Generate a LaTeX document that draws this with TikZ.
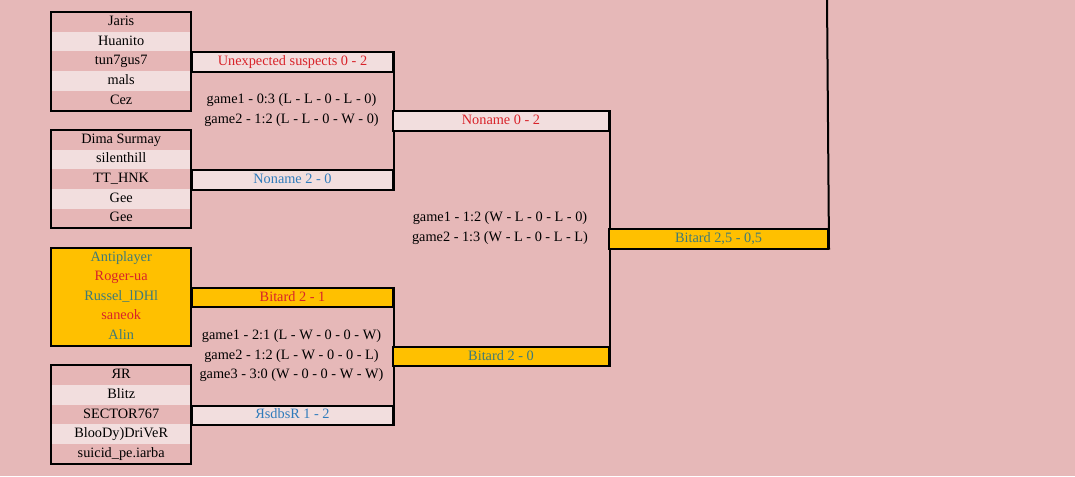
\documentclass[tikz,border=0pt]{standalone}
\usepackage{fontspec}
\setmainfont{Liberation Serif}
\definecolor{bg}{HTML}{E6B8B8}
\definecolor{rowdark}{HTML}{E6B6B6}
\definecolor{rowlight}{HTML}{F2DEDE}
\definecolor{gold}{HTML}{FFC000}
\definecolor{tred}{HTML}{D8232A}
\definecolor{tblue}{HTML}{2F7BBB}
\definecolor{tteal}{HTML}{3F7A78}
\begin{document}
\begin{tikzpicture}[x=1pt,y=-1pt,
  txt/.style={font=\fontsize{14.3}{16}\selectfont, inner sep=0pt, text height=10pt, text depth=3pt},
  cell/.style={txt, anchor=north west, minimum width=140pt, minimum height=19.63pt},
  dk/.style={cell, fill=rowdark},
  lt/.style={cell, fill=rowlight},
  yl/.style={cell, fill=gold},
  bar/.style={txt, anchor=north west, minimum height=19.63pt, draw=black, line width=2pt},
  bar1/.style={bar, minimum width=201pt},
  bar2/.style={bar, minimum width=216pt},
  bar3/.style={bar, minimum width=219pt},
  game/.style={txt, anchor=center},
  frame/.style={draw=black, line width=2pt}
]
\fill[bg] (0,0) rectangle (1075,476);
\useasboundingbox (0,0) rectangle (1075,476);

% team box 1
\node[dk] (a1) at (51,{12+19.63*0}) {Jaris};
\node[lt] (a2) at (51,{12+19.63*1}) {Huanito};
\node[dk] (a3) at (51,{12+19.63*2}) {tun7gus7};
\node[lt] (a4) at (51,{12+19.63*3}) {mals};
\node[dk] (a5) at (51,{12+19.63*4}) {Cez};
\draw[frame] (a1.north west) rectangle (a5.south east);

% team box 2
\node[dk] (b1) at (51,{12+19.63*6}) {Dima Surmay};
\node[lt] (b2) at (51,{12+19.63*7}) {silenthill};
\node[dk] (b3) at (51,{12+19.63*8}) {TT\_HNK};
\node[lt] (b4) at (51,{12+19.63*9}) {Gee};
\node[dk] (b5) at (51,{12+19.63*10}) {Gee};
\draw[frame] (b1.north west) rectangle (b5.south east);

% team box 3
\node[yl, text=tteal] (c1) at (51,{12+19.63*12}) {Antiplayer};
\node[yl, text=tred]  (c2) at (51,{12+19.63*13}) {Roger-ua};
\node[yl, text=tteal] (c3) at (51,{12+19.63*14}) {Russel\_lDHl};
\node[yl, text=tred]  (c4) at (51,{12+19.63*15}) {saneok};
\node[yl, text=tteal] (c5) at (51,{12+19.63*16}) {Alin};
\draw[frame] (c1.north west) rectangle (c5.south east);

% team box 4
\node[dk] (d1) at (51,{12+19.63*18}) {ЯR};
\node[lt] (d2) at (51,{12+19.63*19}) {Blitz};
\node[dk] (d3) at (51,{12+19.63*20}) {SECTOR767};
\node[lt] (d4) at (51,{12+19.63*21}) {BlooDy)DriVeR};
\node[dk] (d5) at (51,{12+19.63*22}) {suicid\_pe.iarba};
\draw[frame] (d1.north west) rectangle (d5.south east);

% round 1, match 1
\node[bar1, fill=rowlight, text=tred] (m1a) at (191,{12+19.63*2}) {Unexpected suspects 0 - 2};
\node[bar1, fill=rowlight, text=tblue] (m1b) at (191,{12+19.63*8}) {Noname 2 - 0};
\draw[frame] (m1a.north east) -- (m1b.south east);
\node[game] (g11) at (291.5,{12+19.63*4.5}) {game1 - 0:3 (L - L - 0 - L - 0)};
\node[game] (g12) at (291.5,{12+19.63*5.5}) {game2 - 1:2 (L - L - 0 - W - 0)};

% round 1, match 2
\node[bar1, fill=gold, text=tred] (m2a) at (191,{12+19.63*14}) {Bitard 2 - 1};
\node[bar1, fill=rowlight, text=tblue] (m2b) at (191,{12+19.63*20}) {ЯsdbsR 1 - 2};
\draw[frame] (m2a.north east) -- (m2b.south east);
\node[game] (g21) at (291.5,{12+19.63*16.5}) {game1 - 2:1 (L - W - 0 - 0 - W)};
\node[game] (g22) at (291.5,{12+19.63*17.5}) {game2 - 1:2 (L - W - 0 - 0 - L)};
\node[game] (g23) at (291.5,{12+19.63*18.5}) {game3 - 3:0 (W - 0 - 0 - W - W)};

% round 2
\node[bar2, fill=rowlight, text=tred] (r2a) at (392,{12+19.63*5}) {Noname 0 - 2};
\node[bar2, fill=gold, text=tteal] (r2b) at (392,{12+19.63*17}) {Bitard 2 - 0};
\draw[frame] (r2a.north east) -- (r2b.south east);
\node[game] (g31) at (500,{12+19.63*10.5}) {game1 - 1:2 (W - L - 0 - L - 0)};
\node[game] (g32) at (500,{12+19.63*11.5}) {game2 - 1:3 (W - L - 0 - L - L)};

% final
\node[bar3, fill=gold, text=tteal] (fin) at (608,{12+19.63*11}) {Bitard 2,5 - 0,5};
\coordinate (topend) at (827,-2);
\draw[frame] (fin.south east) -- (topend);
\end{tikzpicture}
\end{document}
